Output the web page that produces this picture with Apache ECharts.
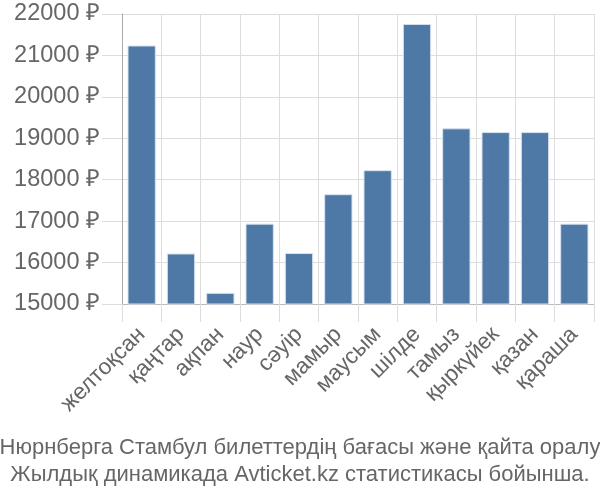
<!DOCTYPE html>
<html><head><meta charset="utf-8">
<script src="https://cdn.jsdelivr.net/npm/echarts@6/dist/echarts.min.js"></script>
<style>html,body{margin:0;padding:0;background:#fff}#c{width:600px;height:500px}</style>
</head><body><div id="c"></div>
<script>
const categories = ['желтоқсан','қаңтар','ақпан','наур','сәуір','мамыр','маусым','шілде','тамыз','қыркүйек','қазан','қараша'];
const prices = [21240, 16220, 15270, 16940, 16230, 17650, 18230, 21760, 19240, 19150, 19150, 16940];
const titleLines = ['Нюрнберга Стамбул билеттердің бағасы және қайта оралу', 'Жылдық динамикада Avticket.kz статистикасы бойынша.'];
const yMin = 15000, yMax = 22000, yStep = 1000;

const chart = echarts.init(document.getElementById('c'), null, {renderer: 'canvas'});
const font = 'Liberation Sans';
chart.setOption({
  animation: false,
  title: {
    text: titleLines.join('\n'),
    left: 'center', top: 429,
    textStyle: {fontFamily: font, fontSize: 22, fontWeight: 'normal', color: '#666', lineHeight: 27}
  },
  grid: {left: 122, right: 6, top: 14, bottom: 196, containLabel: false},
  xAxis: {
    type: 'category', data: categories,
    axisLine: {show: true, lineStyle: {color: '#bbb', width: 1}},
    axisTick: {show: true, length: 18, lineStyle: {color: '#ddd'}},
    splitLine: {show: true, lineStyle: {color: '#ddd', width: 1}},
    axisLabel: {interval: 0, rotate: 45, fontFamily: font, fontSize: 22.5, color: '#666', margin: 27}
  },
  yAxis: {
    type: 'value', min: yMin, max: yMax, interval: yStep,
    axisLine: {show: true, lineStyle: {color: '#aaa', width: 1}},
    axisTick: {show: true, length: 20, lineStyle: {color: '#ddd'}},
    splitLine: {show: true, lineStyle: {color: '#ddd', width: 1}},
    axisLabel: {formatter: v => String(v) + ' ₽', fontFamily: font, fontSize: 23.5, color: '#666', margin: 22}
  },
  series: [{
    type: 'bar', data: prices, barCategoryGap: '28%',
    itemStyle: {color: '#4e79a7', borderColor: '#d8e2ee', borderWidth: 1}
  }]
});
</script></body></html>
